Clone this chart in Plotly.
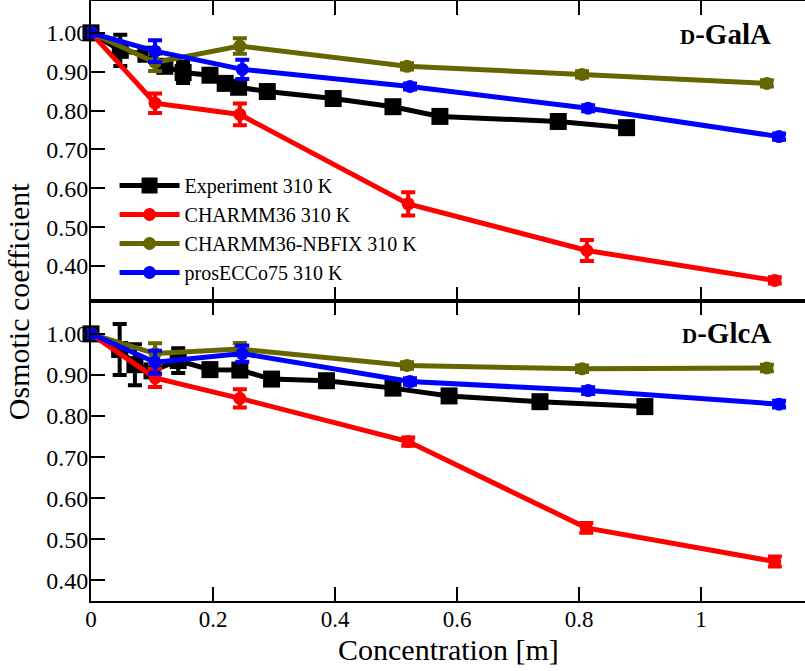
import plotly.graph_objects as go
from plotly.subplots import make_subplots

# ---------------- D-GalA (top panel) ----------------
gala_exp_x = [0, 0.048, 0.09, 0.121, 0.151, 0.195, 0.22, 0.242, 0.289, 0.397, 0.495, 0.572, 0.766, 0.878]
gala_exp_y = [1.0, 0.955, 0.945, 0.914, 0.898, 0.891, 0.87, 0.86, 0.849, 0.831, 0.81, 0.785, 0.772, 0.756]
gala_exp_e = [0.004, 0.04, 0.005, 0.01, 0.027, 0.008, 0.008, 0.008, 0.006, 0.006, 0.006, 0.006, 0.006, 0.006]

gala_c36_x = [0, 0.105, 0.244, 0.52, 0.813, 1.121]
gala_c36_y = [1.0, 0.819, 0.79, 0.56, 0.44, 0.363]
gala_c36_e = [0, 0.025, 0.028, 0.03, 0.027, 0.008]

gala_nbf_x = [0, 0.105, 0.244, 0.518, 0.805, 1.108]
gala_nbf_y = [1.0, 0.924, 0.966, 0.914, 0.893, 0.87]
gala_nbf_e = [0, 0.022, 0.02, 0.008, 0.008, 0.008]

gala_pro_x = [0, 0.105, 0.248, 0.523, 0.815, 1.128]
gala_pro_y = [1.0, 0.953, 0.906, 0.862, 0.806, 0.733]
gala_pro_e = [0, 0.028, 0.025, 0.008, 0.008, 0.008]

# ---------------- D-GlcA (bottom panel) ----------------
glca_exp_x = [0, 0.047, 0.072, 0.1, 0.143, 0.195, 0.244, 0.296, 0.386, 0.495, 0.587, 0.736, 0.908]
glca_exp_y = [1.0, 0.962, 0.925, 0.91, 0.935, 0.913, 0.912, 0.89, 0.886, 0.868, 0.849, 0.835, 0.823]
glca_exp_e = [0.004, 0.062, 0.05, 0.005, 0.03, 0.006, 0.006, 0.012, 0.006, 0.006, 0.006, 0.006, 0.006]

glca_c36_x = [0, 0.105, 0.244, 0.52, 0.812, 1.121]
glca_c36_y = [1.0, 0.893, 0.843, 0.738, 0.528, 0.446]
glca_c36_e = [0, 0.022, 0.022, 0.01, 0.012, 0.012]

glca_nbf_x = [0, 0.105, 0.244, 0.518, 0.805, 1.108]
glca_nbf_y = [1.0, 0.952, 0.963, 0.923, 0.915, 0.917]
glca_nbf_e = [0, 0.025, 0.015, 0.008, 0.008, 0.008]

glca_pro_x = [0, 0.105, 0.248, 0.523, 0.815, 1.128]
glca_pro_y = [1.0, 0.931, 0.952, 0.884, 0.862, 0.829]
glca_pro_e = [0, 0.028, 0.02, 0.008, 0.008, 0.008]

names = ["Experiment 310 K", "CHARMM36 310 K", "CHARMM36-NBFIX 310 K", "prosECCo75 310 K"]
colors = ["#000000", "#ff0000", "#666600", "#0000ff"]
y_ticks = [0.4, 0.5, 0.6, 0.7, 0.8, 0.9, 1.0]
x_ticks = [0, 0.2, 0.4, 0.6, 0.8, 1.0]
x_ticktext = ["0", "0.2", "0.4", "0.6", "0.8", "1"]

FONT = "Liberation Serif, Times New Roman, serif"

fig = make_subplots(rows=2, cols=1, shared_xaxes=True, vertical_spacing=0)

panels = [
    (1, [(gala_exp_x, gala_exp_y, gala_exp_e), (gala_c36_x, gala_c36_y, gala_c36_e),
         (gala_nbf_x, gala_nbf_y, gala_nbf_e), (gala_pro_x, gala_pro_y, gala_pro_e)]),
    (2, [(glca_exp_x, glca_exp_y, glca_exp_e), (glca_c36_x, glca_c36_y, glca_c36_e),
         (glca_nbf_x, glca_nbf_y, glca_nbf_e), (glca_pro_x, glca_pro_y, glca_pro_e)]),
]

for row, series in panels:
    for i, (xs, ys, es) in enumerate(series):
        is_exp = i == 0
        fig.add_trace(go.Scatter(
            x=xs, y=ys, name=names[i], mode="lines+markers",
            line=dict(color=colors[i], width=5),
            marker=dict(symbol="square" if is_exp else "circle",
                        size=17 if is_exp else 13, color=colors[i]),
            error_y=dict(type="data", array=es, visible=True, color=colors[i],
                         thickness=4, width=7),
            cliponaxis=False,
            showlegend=(row == 1),
            legendgroup=names[i],
        ), row=row, col=1)

axis_common = dict(showline=True, linecolor="black", linewidth=2,
                   ticks="inside", ticklen=14, tickwidth=2, tickcolor="black",
                   showgrid=False, zeroline=False, automargin=False)

fig.update_xaxes(range=[0, 1.1705], tickvals=x_ticks, ticktext=x_ticktext,
                 mirror="ticks", ticklabelstandoff=-4,
                 tickfont=dict(family=FONT, size=23, color="black"), **axis_common)
fig.update_xaxes(showticklabels=False, row=1, col=1)
fig.update_yaxes(tickvals=y_ticks, tickformat=".2f", mirror=False, ticklabelstandoff=-4,
                 tickfont=dict(family=FONT, size=24, color="black"), **axis_common)
fig.update_yaxes(range=[0.31, 1.082], row=1, col=1)
fig.update_yaxes(range=[0.35, 1.08], row=2, col=1)

fig.add_annotation(text="<b><span style='font-size:21px'>D</span>-GalA</b>",
                   xref="x domain", yref="y domain", x=0.955, y=0.89,
                   xanchor="right", yanchor="middle", showarrow=False,
                   font=dict(family=FONT, size=29, color="black"))
fig.add_annotation(text="<b><span style='font-size:21px'>D</span>-GlcA</b>",
                   xref="x2 domain", yref="y2 domain", x=0.955, y=0.893,
                   xanchor="right", yanchor="middle", showarrow=False,
                   font=dict(family=FONT, size=29, color="black"))

fig.add_annotation(text="Osmotic coefficient", xref="paper", yref="paper",
                   x=-0.102, y=0.5, textangle=-90, showarrow=False,
                   xanchor="center", yanchor="middle",
                   font=dict(family=FONT, size=30, color="black"))
fig.add_annotation(text="Concentration [m]", xref="paper", yref="paper",
                   x=0.5, y=-0.08, showarrow=False,
                   xanchor="center", yanchor="middle",
                   font=dict(family=FONT, size=30, color="black"))

fig.update_layout(
    width=805, height=671,
    margin=dict(l=91, r=0, t=1, b=70, autoexpand=False),
    paper_bgcolor="white", plot_bgcolor="white",
    font=dict(family=FONT, color="black"),
    showlegend=True,
    legend=dict(x=0.033, y=0.62, xanchor="left", yanchor="middle",
                bgcolor="rgba(0,0,0,0)", font=dict(family=FONT, size=20, color="black"),
                tracegroupgap=0, itemwidth=60),
)

fig.write_html("out.html", config={"displayModeBar": False},
               post_script="document.body.style.margin='0';document.body.style.overflow='hidden';")
